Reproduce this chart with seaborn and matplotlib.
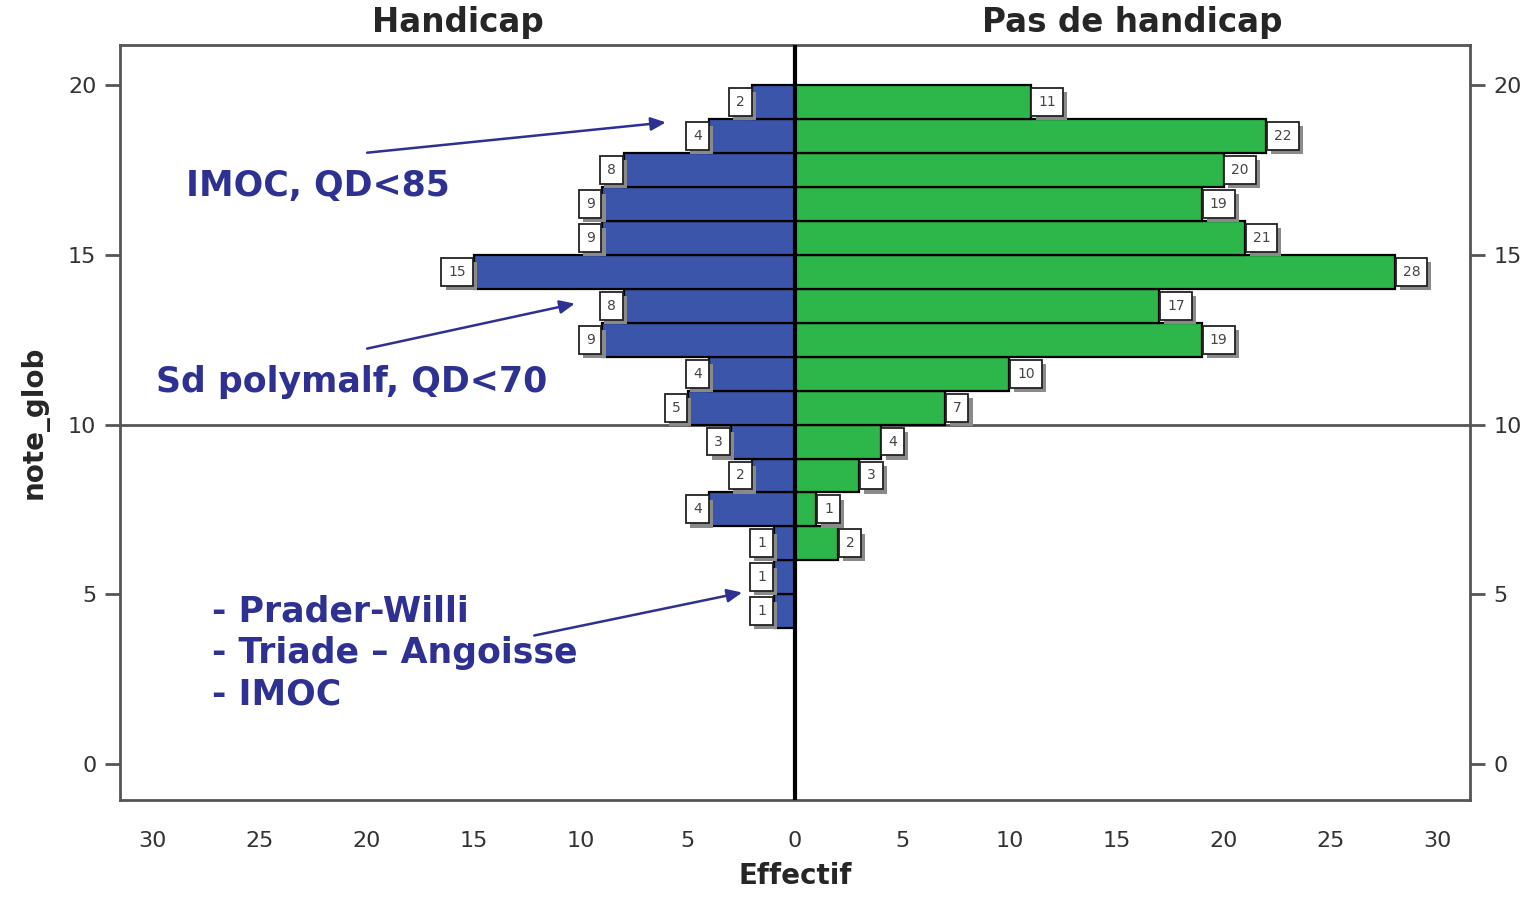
import matplotlib
matplotlib.use("Agg")
import matplotlib.pyplot as plt
import matplotlib.patheffects as pe
import numpy as np
import pandas as pd
import seaborn as sns

# note_glob bins (centre of each 1-point bin) and counts per group
note_centres = [4.5, 5.5, 6.5, 7.5, 8.5, 9.5, 10.5, 11.5, 12.5, 13.5, 14.5, 15.5, 16.5, 17.5, 18.5, 19.5]
handicap = [1, 1, 1, 4, 2, 3, 5, 4, 9, 8, 15, 9, 9, 8, 4, 2]
pas_handicap = [0, 0, 2, 1, 3, 4, 7, 10, 19, 17, 28, 21, 19, 20, 22, 11]

y_ticks = [0, 5, 10, 15, 20]
x_ticks = [-30, -25, -20, -15, -10, -5, 0, 5, 10, 15, 20, 25, 30]

BLUE = "#3B55AA"
GREEN = "#2DB64A"
NOTE_COL = "#2E3192"
AXIS_COL = "#555555"

sns.set_style("white")
plt.rcParams["font.family"] = ["DejaVu Sans"]

df = pd.DataFrame({"note": note_centres, "handicap": handicap, "pas": pas_handicap})
df["handicap_neg"] = -df["handicap"]
df_right = df[df["pas"] > 0]

fig = plt.figure(figsize=(15.35, 8.97), dpi=100)
ax = fig.add_axes([0.0782, 0.1081, 0.8795, 0.8417])

sns.barplot(data=df, x="handicap_neg", y="note", orient="h", native_scale=True,
            width=1, color=BLUE, edgecolor="black", linewidth=1.6, errorbar=None,
            saturation=1, ax=ax, zorder=3)
sns.barplot(data=df_right, x="pas", y="note", orient="h", native_scale=True,
            width=1, color=GREEN, edgecolor="black", linewidth=1.6, errorbar=None,
            saturation=1, ax=ax, zorder=3)

ax.set_xlim(-31.5, 31.5)
ax.set_ylim(-1.06, 21.18)

ax.axhline(10, color=AXIS_COL, lw=2, zorder=2)
ax.axvline(0, color="black", lw=3, zorder=5)

shadow = [pe.SimplePatchShadow(offset=(3, -3), shadow_rgbFace="#8a8a8a", alpha=1), pe.Normal()]


def value_label(x, y, side):
    off = -5.5 if side == "left" else 5.5
    ha = "right" if side == "left" else "left"
    t = ax.annotate(str(abs(int(x))), xy=(x, y), xytext=(off, 0), textcoords="offset points",
                    ha=ha, va="center", fontsize=10, color="#444444", zorder=7,
                    bbox=dict(boxstyle="square,pad=0.5", fc="white", ec="#222222", lw=1.3))
    t.get_bbox_patch().set_path_effects(shadow)


for _, r in df.iterrows():
    value_label(r["handicap_neg"], r["note"], "left")
for _, r in df_right.iterrows():
    value_label(r["pas"], r["note"], "right")

ax.set_xticks(x_ticks)
ax.set_xticklabels([str(abs(t)) for t in x_ticks])
ax.set_yticks(y_ticks)
ax.tick_params(axis="both", direction="out", length=11, width=2, color=AXIS_COL,
               labelsize=16, labelcolor="#333333", pad=6)
ax.tick_params(axis="x", pad=11)
ax.tick_params(axis="y", right=True, labelright=True, left=True)
for s in ax.spines.values():
    s.set_color(AXIS_COL)
    s.set_linewidth(2)

ax.set_xlabel("Effectif", fontsize=20, fontweight="bold", labelpad=8)
ax.set_ylabel("note_glob", fontsize=20, fontweight="bold", labelpad=14)

ax.text(0.25, 1.008, "Handicap", transform=ax.transAxes, ha="center", va="bottom",
        fontsize=23.5, fontweight="bold")
ax.text(0.75, 1.008, "Pas de handicap", transform=ax.transAxes, ha="center", va="bottom",
        fontsize=23.5, fontweight="bold")

# annotations
note_font = dict(fontsize=25, fontweight="bold", color=NOTE_COL)
ax.text(-28.4, 17.03, "IMOC, QD<85", ha="left", va="center", **note_font)
ax.text(-29.8, 11.25, "Sd polymalf, QD<70", ha="left", va="center", **note_font)
ax.text(-27.2, 3.27, "- Prader-Willi\n- Triade – Angoisse\n- IMOC", ha="left", va="center",
        linespacing=1.27, **note_font)

arrow = dict(arrowstyle="-|>,head_length=0.9,head_width=0.4", color=NOTE_COL, lw=1.8)
ax.annotate("", xy=(-5.9, 18.91), xytext=(-20.1, 18.0), arrowprops=arrow, zorder=8)
ax.annotate("", xy=(-10.15, 13.58), xytext=(-20.1, 12.22), arrowprops=arrow, zorder=8)
ax.annotate("", xy=(-2.34, 5.07), xytext=(-12.3, 3.77), arrowprops=arrow, zorder=8)

fig.savefig("out.png", dpi=100)
